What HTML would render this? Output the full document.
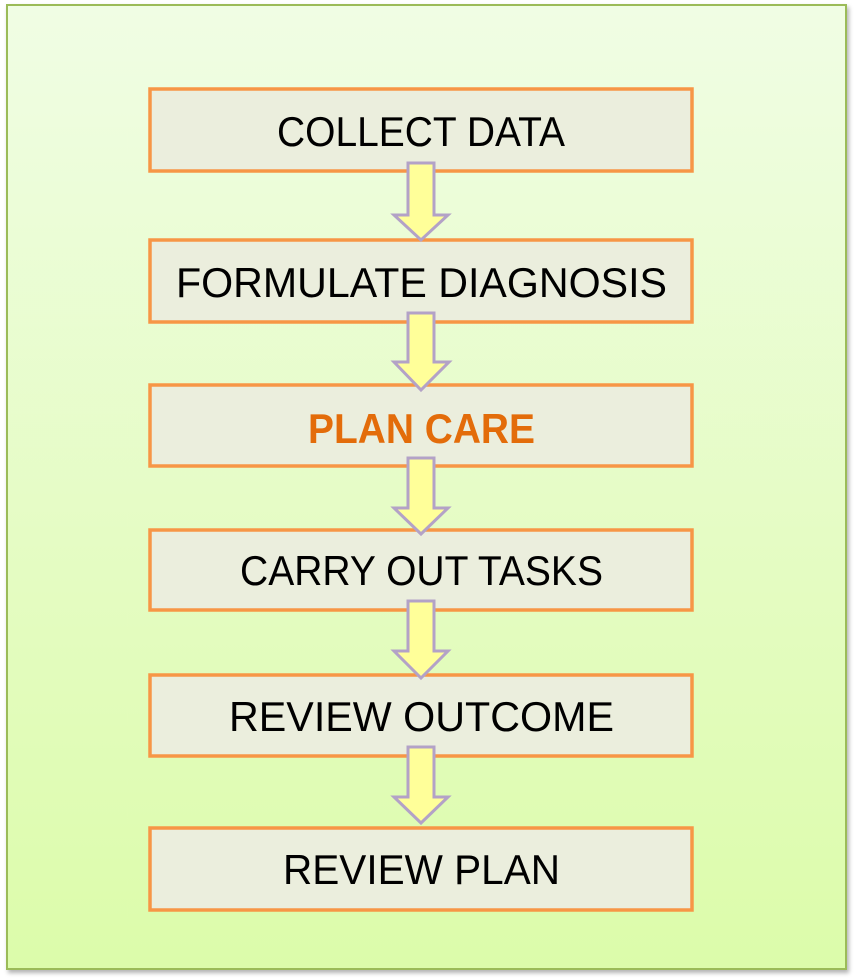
<!DOCTYPE html>
<html><head><meta charset="utf-8"><style>
html,body{margin:0;padding:0;background:#fff;width:854px;height:980px;overflow:hidden}
</style></head><body>
<svg width="854" height="980" viewBox="0 0 854 980" xmlns="http://www.w3.org/2000/svg">
<defs>
<linearGradient id="g" x1="0" y1="0" x2="0" y2="1">
<stop offset="0" stop-color="#f0fde4"/><stop offset="1" stop-color="#dcfcaa"/>
</linearGradient>
<filter id="sh" x="-5%" y="-5%" width="110%" height="110%"><feDropShadow dx="2" dy="3" stdDeviation="2" flood-color="#000" flood-opacity="0.3"/></filter>
</defs>
<rect x="7" y="5" width="839" height="964" fill="url(#g)" stroke="#9bbb59" stroke-width="2" filter="url(#sh)"/>
<g fill="#ebeedd" stroke="#f79646" stroke-width="3.5">
<rect x="150" y="89" width="542" height="82"/>
<rect x="150" y="240" width="542" height="82"/>
<rect x="150" y="385" width="542" height="81"/>
<rect x="150" y="530" width="542" height="80"/>
<rect x="150" y="675" width="542" height="81"/>
<rect x="150" y="828" width="542" height="82"/>
</g>
<g fill="#ffff99" stroke="#b3a2c7" stroke-width="3" stroke-linejoin="miter">
<polygon points="408,163 434,163 434,215 448,215 421,240 394,215 408,215"/>
<polygon points="408,313 434,313 434,362 449,362 421,390 394,362 408,362"/>
<polygon points="408,458 434,458 434,508 448,508 421,534 394,508 408,508"/>
<polygon points="408,601 434,601 434,651 448,651 421,678 394,651 408,651"/>
<polygon points="408,747 434,747 434,797 448,797 421,823 394,797 408,797"/>
</g>
<g font-family="Liberation Sans, sans-serif" font-size="42" fill="#000" lengthAdjust="spacingAndGlyphs">
<text x="277" y="146" textLength="288" lengthAdjust="spacingAndGlyphs">COLLECT DATA</text>
<text x="176" y="297" textLength="491" lengthAdjust="spacingAndGlyphs">FORMULATE DIAGNOSIS</text>
<text x="308" y="443" textLength="227" lengthAdjust="spacingAndGlyphs" font-weight="bold" fill="#e36c0a">PLAN CARE</text>
<text x="240" y="585" textLength="363" lengthAdjust="spacingAndGlyphs">CARRY OUT TASKS</text>
<text x="229" y="731" textLength="385" lengthAdjust="spacingAndGlyphs">REVIEW OUTCOME</text>
<text x="283" y="884" textLength="277" lengthAdjust="spacingAndGlyphs">REVIEW PLAN</text>
</g>
</svg>
</body></html>
